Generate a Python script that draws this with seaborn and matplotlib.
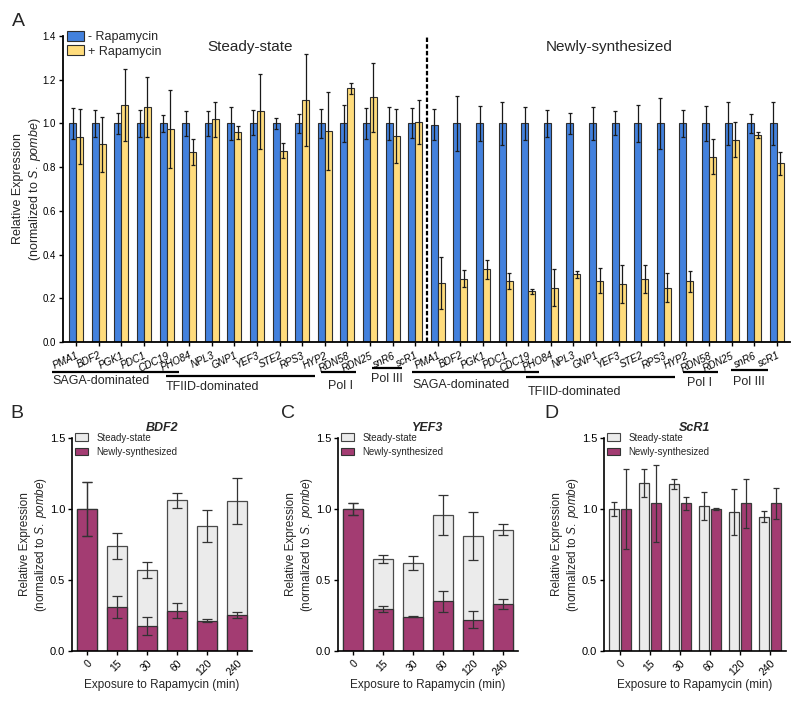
import numpy as np
import pandas as pd
import matplotlib
matplotlib.use("Agg")
import matplotlib.pyplot as plt
from matplotlib.patches import Patch
from matplotlib.transforms import blended_transform_factory
import seaborn as sns

# ---------------- data ----------------
genes = ["PMA1", "BDF2", "PGK1", "PDC1", "CDC19", "PHO84", "NPL3", "GNP1",
         "YEF3", "STE2", "RPS3", "HYP2", "RDN58", "RDN25", "snR6", "scR1"]
treatments = ["- Rapamycin", "+ Rapamycin"]

# Panel A, steady-state
ss_minus = [1.0, 1.0, 1.0, 1.0, 1.0, 1.0, 1.0, 1.0, 1.003, 1.0, 1.0, 1.0, 1.0, 1.0, 1.0, 1.003]
ss_minus_err = [0.07, 0.06, 0.05, 0.06, 0.04, 0.057, 0.057, 0.075, 0.057, 0.026, 0.045, 0.066,
                0.085, 0.07, 0.075, 0.068]
ss_plus = [0.94, 0.905, 1.085, 1.077, 0.974, 0.871, 1.018, 0.96, 1.055, 0.875, 1.106, 0.965,
           1.16, 1.12, 0.943, 1.008]
ss_plus_err = [0.125, 0.125, 0.165, 0.137, 0.178, 0.06, 0.08, 0.03, 0.17, 0.035, 0.21, 0.18,
               0.025, 0.157, 0.125, 0.1]
# Panel A, newly-synthesized
ns_minus = [0.994, 1.0, 1.0, 1.0, 1.0, 1.0, 1.0, 1.0, 1.0, 1.0, 1.0, 1.0, 1.0, 1.0, 1.0, 1.0]
ns_minus_err = [0.07, 0.124, 0.08, 0.10, 0.075, 0.06, 0.047, 0.076, 0.055, 0.086, 0.116, 0.06,
                0.08, 0.10, 0.043, 0.10]
ns_plus = [0.269, 0.29, 0.332, 0.278, 0.232, 0.249, 0.309, 0.28, 0.266, 0.289, 0.248, 0.278,
           0.847, 0.925, 0.948, 0.818]
ns_plus_err = [0.118, 0.04, 0.045, 0.037, 0.012, 0.085, 0.017, 0.058, 0.086, 0.064, 0.067, 0.049,
               0.08, 0.08, 0.013, 0.053]

group_names = ["SAGA-dominated", "TFIID-dominated", "Pol I", "Pol III"]

# Panels B-D
times = ["0", "15", "30", "60", "120", "240"]
series = ["Steady-state", "Newly-synthesized"]
bdf2_steady = [1.0, 0.74, 0.57, 1.061, 0.879, 1.057]
bdf2_steady_err = [0.19, 0.094, 0.058, 0.052, 0.112, 0.16]
bdf2_new = [1.0, 0.31, 0.177, 0.284, 0.213, 0.255]
bdf2_new_err = [0.19, 0.077, 0.062, 0.052, 0.01, 0.02]
yef3_steady = [1.0, 0.648, 0.622, 0.958, 0.81, 0.853]
yef3_steady_err = [0.045, 0.03, 0.05, 0.139, 0.17, 0.038]
yef3_new = [1.0, 0.297, 0.242, 0.349, 0.221, 0.332]
yef3_new_err = [0.045, 0.02, 0.004, 0.076, 0.062, 0.036]
scr1_steady = [1.0, 1.185, 1.176, 1.02, 0.979, 0.946]
scr1_steady_err = [0.05, 0.097, 0.038, 0.1, 0.165, 0.038]
scr1_new = [1.0, 1.039, 1.041, 1.0, 1.039, 1.039]
scr1_new_err = [0.285, 0.27, 0.047, 0.007, 0.173, 0.11]

# ---------------- style ----------------
sns.set_style("ticks")
plt.rcParams["font.family"] = ["Liberation Sans", "DejaVu Sans"]
plt.rcParams["mathtext.fontset"] = "custom"
plt.rcParams["mathtext.rm"] = "Liberation Sans"
plt.rcParams["mathtext.it"] = "Liberation Sans:italic"
plt.rcParams["mathtext.bf"] = "Liberation Sans:bold"
plt.rcParams["axes.edgecolor"] = "black"
plt.rcParams["xtick.color"] = "black"
plt.rcParams["ytick.color"] = "black"

BLUE = "#4381DD"
YELLOW = "#FFDC7C"
GRAY = "#EBEBEB"
MAGENTA = "#A33C72"
EDGE = "#2e2e2e"
YLABEL = "Relative Expression\n(normalized to $\\it{S.\\ pombe}$)"

W, H = 800, 702
fig = plt.figure(figsize=(W / 100, H / 100), dpi=100)


def box(l, r, t, b):
    return [l / W, 1 - b / H, (r - l) / W, (b - t) / H]


axA = fig.add_axes(box(63, 790, 36, 342))
axB = fig.add_axes(box(72, 252, 438, 651))
axC = fig.add_axes(box(338, 518, 438, 651))
axD = fig.add_axes(box(604, 786, 438, 651))

# ---------------- Panel A ----------------
slots = [f"S_{g}" for g in genes] + [f"N_{g}" for g in genes]
dfA = pd.DataFrame({
    "slot": slots * 2,
    "treatment": [treatments[0]] * 32 + [treatments[1]] * 32,
    "value": ss_minus + ns_minus + ss_plus + ns_plus,
})
errsA = [ss_minus_err + ns_minus_err, ss_plus_err + ns_plus_err]
sns.barplot(data=dfA, x="slot", y="value", hue="treatment", order=slots,
            hue_order=treatments, palette=[BLUE, YELLOW], saturation=1,
            width=0.62, edgecolor=EDGE, linewidth=0.8, errorbar=None,
            legend=False, ax=axA)
for cont, errs in zip(axA.containers, errsA):
    xs = [p.get_x() + p.get_width() / 2 for p in cont]
    hs = [p.get_height() for p in cont]
    axA.errorbar(xs, hs, yerr=errs, fmt="none", ecolor="#1a1a1a",
                 elinewidth=0.9, capsize=1.6, capthick=0.9, zorder=3)

axA.set_xlim(-0.58, 31.58)
axA.set_ylim(0, 1.4)
axA.set_yticks(np.arange(0, 1.41, 0.2))
axA.set_yticklabels([f"{v:.1f}" for v in np.arange(0, 1.41, 0.2)], fontsize=7)
axA.set_xticks(range(32))
axA.set_xticklabels(genes + genes, rotation=25, ha="right",
                    rotation_mode="anchor", fontstyle="italic", fontsize=7.2)
axA.tick_params(axis="both", direction="out", length=3, width=1, pad=2)
axA.tick_params(axis="x", pad=3)
axA.set_xlabel("")
axA.set_ylabel(YLABEL, fontsize=9, labelpad=0)
sns.despine(ax=axA)
for s in ["left", "bottom"]:
    axA.spines[s].set_linewidth(1.3)

axA.axvline(15.5, ymin=0, ymax=1, color="black", lw=1.6, ls=(0, (2, 1)), zorder=4)
axA.text(7.7, 1.35, "Steady-state", ha="center", va="center", fontsize=11)
axA.text(23.6, 1.35, "Newly-synthesized", ha="center", va="center", fontsize=11)

axA.legend(handles=[Patch(facecolor=BLUE, edgecolor=EDGE, lw=0.8, label=treatments[0]),
                    Patch(facecolor=YELLOW, edgecolor=EDGE, lw=0.8, label=treatments[1])],
           loc="upper left", bbox_to_anchor=(0.004, 1.02), frameon=False, fontsize=9,
           handlelength=1.35, handleheight=0.85, handletextpad=0.3,
           labelspacing=0.15, borderaxespad=0, borderpad=0.1)

# group brackets (layout: x-span in category units, line y, text x, text y, align)
trans = blended_transform_factory(axA.transData, axA.transAxes)
bracket_layout = [
    (0, -1.06, 4.56, -0.098, -1.06, -0.127, "left"),
    (1, 3.98, 10.58, -0.111, 3.98, -0.147, "left"),
    (2, 10.84, 12.39, -0.098, 11.68, -0.144, "center"),
    (3, 13.10, 14.42, -0.085, 13.76, -0.121, "center"),
    (0, 14.87, 20.49, -0.098, 14.87, -0.141, "left"),
    (1, 19.91, 26.50, -0.114, 19.96, -0.163, "left"),
    (2, 26.86, 28.41, -0.098, 27.57, -0.134, "center"),
    (3, 28.98, 30.62, -0.0915, 29.78, -0.131, "center"),
]
for gi, x0, x1, ly, tx, ty, ha in bracket_layout:
    axA.plot([x0, x1], [ly, ly], transform=trans, color="black", lw=1.6,
             clip_on=False, solid_capstyle="butt")
    axA.text(tx, ty, group_names[gi], transform=trans, ha=ha, va="center",
             fontsize=9)


# ---------------- Panels B, C ----------------
def small_axes_style(ax, title):
    ax.set_xlim(-0.5, 5.5)
    ax.set_ylim(0, 1.5)
    ax.set_yticks([0, 0.5, 1.0, 1.5])
    ax.set_yticklabels(["0.0", "0.5", "1.0", "1.5"], fontsize=8)
    ax.set_xticks(range(len(times)))
    ax.set_xticklabels(times, rotation=45, ha="right", rotation_mode="anchor",
                       fontsize=7.5)
    ax.tick_params(axis="both", direction="out", length=3, width=1, pad=2)
    ax.set_xlabel("Exposure to Rapamycin (min)", fontsize=8.5, labelpad=1)
    ax.set_ylabel(YLABEL, fontsize=8.5, labelpad=0.5)
    ax.set_title(title, fontsize=9, fontweight="bold", fontstyle="italic", pad=5)
    sns.despine(ax=ax)
    for s in ["left", "bottom"]:
        ax.spines[s].set_linewidth(1.2)
    ax.legend(handles=[Patch(facecolor=GRAY, edgecolor="#444444", lw=0.8, label=series[0]),
                       Patch(facecolor=MAGENTA, edgecolor="#333333", lw=0.8, label=series[1])],
              loc="upper left", bbox_to_anchor=(0.01, 1.03), frameon=False, fontsize=7,
              handlelength=1.4, handleheight=0.85, handletextpad=0.8,
              labelspacing=0.45, borderaxespad=0, borderpad=0.1)


def overlay_panel(ax, steady, steady_err, new, new_err, title):
    sns.barplot(x=times, y=steady, order=times, color=GRAY, saturation=1,
                width=0.67, edgecolor="#4a4a4a", linewidth=0.9, errorbar=None, ax=ax)
    sns.barplot(x=times, y=new, order=times, color=MAGENTA, saturation=1,
                width=0.67, edgecolor="#333333", linewidth=0.9, errorbar=None, ax=ax)
    for cont, errs in zip(ax.containers, [steady_err, new_err]):
        xs = [p.get_x() + p.get_width() / 2 for p in cont]
        hs = [p.get_height() for p in cont]
        ax.errorbar(xs, hs, yerr=errs, fmt="none", ecolor="#333333",
                    elinewidth=0.9, capsize=3.5, capthick=0.9, zorder=3)
    small_axes_style(ax, title)


overlay_panel(axB, bdf2_steady, bdf2_steady_err, bdf2_new, bdf2_new_err, "BDF2")
overlay_panel(axC, yef3_steady, yef3_steady_err, yef3_new, yef3_new_err, "YEF3")

# ---------------- Panel D ----------------
dfD = pd.DataFrame({
    "time": times * 2,
    "series": [series[0]] * 6 + [series[1]] * 6,
    "value": scr1_steady + scr1_new,
})
sns.barplot(data=dfD, x="time", y="value", hue="series", order=times,
            hue_order=series, palette=[GRAY, MAGENTA], saturation=1,
            width=0.8, gap=0.2, edgecolor="#3a3a3a", linewidth=0.9,
            errorbar=None, legend=False, ax=axD)
for cont, errs in zip(axD.containers, [scr1_steady_err, scr1_new_err]):
    xs = [p.get_x() + p.get_width() / 2 for p in cont]
    hs = [p.get_height() for p in cont]
    axD.errorbar(xs, hs, yerr=errs, fmt="none", ecolor="#333333",
                 elinewidth=0.9, capsize=2.3, capthick=0.9, zorder=3)
small_axes_style(axD, "ScR1")
axD.set_xlim(-0.53, 5.53)

# ---------------- panel letters ----------------
for x, y, s in [(12, 13, "A"), (10, 405, "B"), (281, 405, "C"), (544, 405, "D")]:
    fig.text(x / W, 1 - y / H, s, fontsize=14, va="top", ha="left")

fig.savefig("out.png", dpi=100)
